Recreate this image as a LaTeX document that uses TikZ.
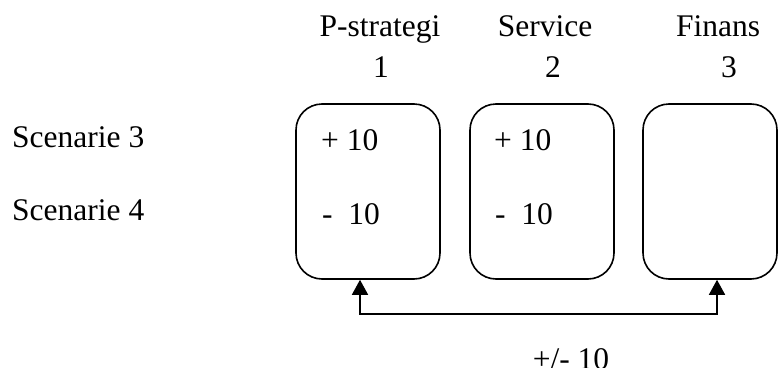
\documentclass[tikz,border=0pt]{standalone}
\usepackage{fontspec}
\setmainfont{Liberation Serif}
\usetikzlibrary{arrows.meta}
\begin{document}
\begin{tikzpicture}[x=1pt,y=-1pt,
  txt/.style={inner sep=0pt,font=\fontsize{31.5}{36}\selectfont},
  card/.style={draw,line width=1.6pt,rounded corners=26pt,inner sep=0pt},
  link/.style={line width=1.6pt,{Triangle[length=15pt,width=16pt]}-{Triangle[length=15pt,width=16pt]}}]
\useasboundingbox (0,0) rectangle (779,367);
% boxes
\node[card,minimum width=144pt,minimum height=175pt] (b1) at (368,191.5) {};
\node[card,minimum width=144pt,minimum height=175pt] (b2) at (542,191.5) {};
\node[card,minimum width=134pt,minimum height=175pt] (b3) at (710,191.5) {};
% headers
\node[txt,anchor=base] (h1) at (380,36) {P-strategi};
\node[txt,anchor=base] (n1) at (381,77) {1};
\node[txt,anchor=base] (h2) at (545,36) {Service};
\node[txt,anchor=base] (n2) at (553,77) {2};
\node[txt,anchor=base] (h3) at (718,36) {Finans};
\node[txt,anchor=base] (n3) at (729,77) {3};
% row labels
\node[txt,anchor=base west] (s3) at (12,147) {Scenarie 3};
\node[txt,anchor=base west] (s4) at (12,220) {Scenarie 4};
% values
\node[txt,anchor=base west] (p1) at (321,150) {+ 10};
\node[txt,anchor=base west] (m1) at (322,224) {-\ \ 10};
\node[txt,anchor=base west] (p2) at (494,150) {+ 10};
\node[txt,anchor=base west] (m2) at (495,224) {-\ \ 10};
% connector
\coordinate (c1) at (360,314);
\coordinate (c3) at (717,314);
\draw[link] (b1.south -| c1) -- (c1) -- (c3) -- (b3.south -| c3);
\node[txt,anchor=base] (lab) at (571,369) {+/- 10};
\end{tikzpicture}
\end{document}
